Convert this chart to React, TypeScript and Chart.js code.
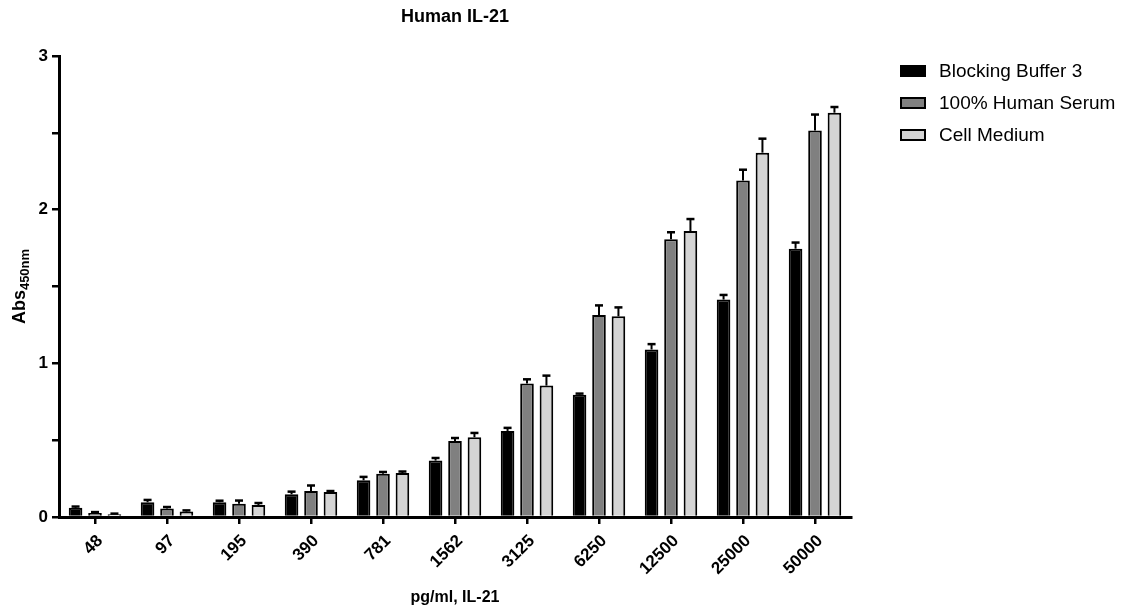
import React, { useEffect, useRef } from "react";
import { Chart, registerables } from "chart.js";

Chart.register(...registerables);

const categories = ["48", "97", "195", "390", "781", "1562", "3125", "6250", "12500", "25000", "50000"];
const seriesNames = ["Blocking Buffer 3", "100% Human Serum", "Cell Medium"];
const blockingBuffer = [0.06, 0.096, 0.096, 0.148, 0.239, 0.367, 0.56, 0.796, 1.09, 1.415, 1.746];
const blockingBufferErr = [0.008, 0.015, 0.01, 0.017, 0.022, 0.017, 0.02, 0.007, 0.035, 0.03, 0.04];
const humanSerum = [0.026, 0.055, 0.087, 0.17, 0.282, 0.494, 0.868, 1.314, 1.807, 2.19, 2.515];
const humanSerumErr = [0.006, 0.01, 0.02, 0.035, 0.011, 0.02, 0.028, 0.063, 0.046, 0.07, 0.104];
const cellMedium = [0.018, 0.035, 0.078, 0.163, 0.286, 0.519, 0.855, 1.306, 1.861, 2.371, 2.631];
const cellMediumErr = [0.004, 0.008, 0.013, 0.006, 0.01, 0.028, 0.065, 0.058, 0.078, 0.091, 0.037];
const seriesColors = ["#000000", "#808080", "#d4d4d4"];

const FONT = '"Liberation Sans", Arial, sans-serif';

const errors = [blockingBufferErr, humanSerumErr, cellMediumErr];

const errorBarPlugin = {
  id: "errorBars",
  afterDatasetsDraw(chart: any) {
    const ctx = chart.ctx;
    const yScale = chart.scales.y;
    ctx.save();
    ctx.strokeStyle = "#000";
    chart.data.datasets.forEach((ds: any, i: number) => {
      const meta = chart.getDatasetMeta(i);
      meta.data.forEach((el: any, j: number) => {
        const v = ds.data[j];
        const e = errors[i][j];
        const yTop = yScale.getPixelForValue(v + e);
        const yBar = yScale.getPixelForValue(v);
        ctx.lineWidth = 2;
        ctx.beginPath();
        ctx.moveTo(el.x, yBar);
        ctx.lineTo(el.x, yTop);
        ctx.stroke();
        ctx.lineWidth = 2.5;
        ctx.beginPath();
        ctx.moveTo(el.x - 4, yTop);
        ctx.lineTo(el.x + 4, yTop);
        ctx.stroke();
      });
    });
    ctx.restore();
  },
};

const annotationsPlugin = {
  id: "annotations",
  afterDraw(chart: any) {
    const ctx = chart.ctx;
    const area = chart.chartArea;
    const cx = (area.left + area.right) / 2;
    ctx.save();
    ctx.fillStyle = "#000";
    // Title
    ctx.font = `bold 18px ${FONT}`;
    ctx.textAlign = "center";
    ctx.textBaseline = "middle";
    ctx.fillText("Human IL-21", cx, 17);
    // X axis title
    ctx.font = `bold 16px ${FONT}`;
    ctx.fillText("pg/ml, IL-21", cx, 598);
    // Y axis title with subscript
    ctx.translate(20, (area.top + area.bottom) / 2);
    ctx.rotate(-Math.PI / 2);
    ctx.font = `bold 18px ${FONT}`;
    const mainW = ctx.measureText("Abs").width;
    ctx.font = `bold 13px ${FONT}`;
    const subW = ctx.measureText("450nm").width;
    const total = mainW + subW;
    ctx.textAlign = "left";
    ctx.font = `bold 18px ${FONT}`;
    ctx.fillText("Abs", -total / 2, 0);
    ctx.font = `bold 13px ${FONT}`;
    ctx.fillText("450nm", -total / 2 + mainW, 5);
    ctx.restore();

    // Legend
    ctx.save();
    const rows = [71, 103, 135];
    chart.data.datasets.forEach((ds: any, i: number) => {
      const y = rows[i];
      ctx.fillStyle = ds.backgroundColor;
      ctx.fillRect(901, y - 5, 24, 10);
      ctx.strokeStyle = "#000";
      ctx.lineWidth = 2;
      ctx.strokeRect(901, y - 5, 24, 10);
      ctx.fillStyle = "#000";
      ctx.font = `19px ${FONT}`;
      ctx.textAlign = "left";
      ctx.textBaseline = "middle";
      ctx.fillText(ds.label, 939, y + 1);
    });
    ctx.restore();
  },
};

export default function App() {
  const canvasRef = useRef<HTMLCanvasElement | null>(null);

  useEffect(() => {
    if (!canvasRef.current) return;
    const seriesData = [blockingBuffer, humanSerum, cellMedium];
    const chart = new Chart(canvasRef.current, {
      type: "bar",
      data: {
        labels: categories,
        datasets: seriesNames.map((name, i) => ({
          label: name,
          data: seriesData[i],
          backgroundColor: seriesColors[i],
          borderColor: "#000",
          borderWidth: 2,
          borderSkipped: "start",
          barPercentage: 0.7,
          categoryPercentage: 0.81,
        })),
      },
      options: {
        responsive: false,
        animation: false,
        devicePixelRatio: 1,
        layout: { padding: { left: 0, top: 56, right: 272, bottom: 0 } },
        plugins: {
          legend: { display: false },
          title: { display: false },
          tooltip: { enabled: false },
        },
        scales: {
          x: {
            offset: true,
            grid: {
              display: true,
              drawOnChartArea: false,
              drawTicks: true,
              tickLength: 7,
              offset: false,
              color: "#000",
              lineWidth: 2.5,
            },
            border: { display: true, color: "#000", width: 3 },
            ticks: {
              color: "#000",
              font: { family: FONT, size: 17, weight: "bold" },
              minRotation: 45,
              maxRotation: 45,
              autoSkip: false,
              padding: 7,
              labelOffset: 5,
            },
            afterFit(scale: any) {
              scale.height = 96;
            },
          },
          y: {
            min: 0,
            max: 3,
            grid: {
              display: true,
              drawOnChartArea: false,
              drawTicks: true,
              tickLength: 7,
              color: "#000",
              lineWidth: 2.5,
            },
            border: { display: true, color: "#000", width: 3 },
            ticks: {
              stepSize: 0.5,
              color: "#000",
              font: { family: FONT, size: 17, weight: "bold" },
              padding: 4,
              callback: (v: any) => (Number.isInteger(v) ? String(v) : ""),
            },
            afterFit(scale: any) {
              scale.width = 59;
            },
          },
        },
      },
      plugins: [errorBarPlugin, annotationsPlugin],
    });
    return () => chart.destroy();
  }, []);

  return (
    <div style={{ position: "fixed", left: 0, top: 0, width: 1123, height: 613, background: "#fff" }}>
      <canvas ref={canvasRef} width={1123} height={613} style={{ display: "block" }} />
    </div>
  );
}
